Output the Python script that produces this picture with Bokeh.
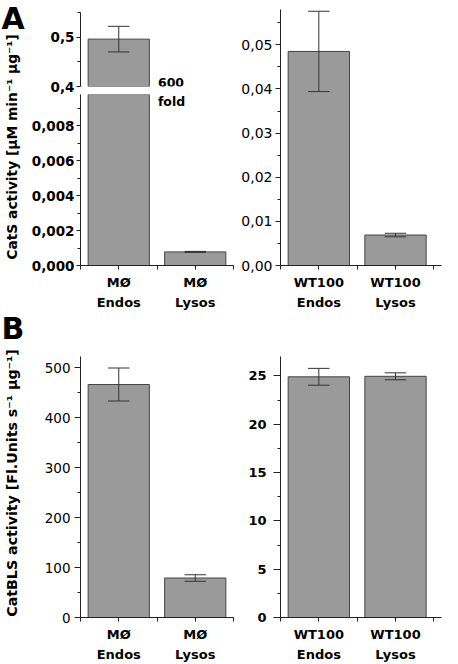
import math
from bokeh.plotting import figure
from bokeh.models import (Range1d, LinearAxis, FixedTicker, CustomJSTickFormatter,
                          Label, ColumnDataSource)
from bokeh.layouts import row, column
from bokeh.embed import file_html
from bokeh.resources import INLINE

FONT = "DejaVu Sans"

# ---------------- data ----------------
labels_mo = ["MØ\nEndos", "MØ\nLysos"]
labels_wt = ["WT100\nEndos", "WT100\nLysos"]
bar_pos = [1, 2]

cats_mo_mean = [0.496, 0.00078]
cats_mo_err = [0.026, 0.00003]
cats_wt_mean = [0.0485, 0.0069]
cats_wt_err = [0.0091, 0.0004]
bls_mo_mean = [466, 79]
bls_mo_err = [33, 6.5]
bls_wt_mean = [24.9, 24.95]
bls_wt_err = [0.87, 0.36]

ticks_cats_upper = [0.4, 0.5]
minor_cats_upper = [0.45, 0.55]
ticks_cats_lower = [0.0, 0.002, 0.004, 0.006, 0.008]
minor_cats_lower = [0.001, 0.003, 0.005, 0.007, 0.009]
ticks_cats_wt = [0.0, 0.01, 0.02, 0.03, 0.04, 0.05]
minor_cats_wt = [0.005, 0.015, 0.025, 0.035, 0.045, 0.055]
ticks_bls_mo = [0, 100, 200, 300, 400, 500]
minor_bls_mo = [50, 150, 250, 350, 450]
ticks_bls_wt = [0, 5, 10, 15, 20, 25]
minor_bls_wt = [2.5, 7.5, 12.5, 17.5, 22.5]
x_ticks = [0.5, 1, 1.5, 2, 2.5]

ylabel_top = "CatS activity [µM min⁻¹ µg⁻¹]"
ylabel_bot = "CatBLS activity [Fl.Units s⁻¹ µg⁻¹]"
panel_letters = ["A", "B"]
fold_text = ["600", "fold"]

BAR_FILL = "#9a9a9a"
BAR_LINE = "#444444"
AX = "#222222"
TXT = "black"


def make_fig(w, h, l, r, t, b, xr, yr):
    p = figure(width=w, height=h, x_range=Range1d(*xr), y_range=Range1d(*yr),
               output_backend="svg", toolbar_location=None,
               x_axis_location=None, y_axis_location=None,
               min_border_left=l, min_border_right=r,
               min_border_top=t, min_border_bottom=b)
    p.outline_line_color = None
    p.grid.visible = False
    p.background_fill_color = "white"
    p.border_fill_color = "white"
    return p


def add_y(p, ticks, minor, digits, bold, size, standoff, tick_out=5, comma=True):
    code = f"return tick.toFixed({digits})" + (".replace('.', ',');" if comma else ";")
    ax = LinearAxis(ticker=FixedTicker(ticks=ticks, minor_ticks=minor),
                    formatter=CustomJSTickFormatter(code=code))
    ax.axis_line_color = AX
    ax.major_tick_line_color = AX
    ax.minor_tick_line_color = AX
    ax.major_tick_in = 0
    ax.major_tick_out = tick_out
    ax.minor_tick_in = 0
    ax.minor_tick_out = 3
    ax.major_label_standoff = standoff
    ax.major_label_text_font = FONT
    ax.major_label_text_font_size = size
    ax.major_label_text_font_style = "bold" if bold else "normal"
    ax.major_label_text_color = TXT
    p.add_layout(ax, "left")
    return ax


def add_x(p, labels):
    ax = LinearAxis(ticker=FixedTicker(ticks=x_ticks, minor_ticks=[]),
                    formatter=CustomJSTickFormatter(
                        args=dict(labels=labels),
                        code="const r = Math.round(tick); const i = r - 1;"
                             "return (Math.abs(tick - r) < 1e-6 && i >= 0 && i < labels.length) ? labels[i] : '';"))
    ax.axis_line_color = AX
    ax.major_tick_line_color = AX
    ax.major_tick_in = 0
    ax.major_tick_out = 4
    ax.major_label_standoff = 5
    ax.major_label_text_font = FONT
    ax.major_label_text_font_size = "13px"
    ax.major_label_text_font_style = "bold"
    ax.major_label_text_color = TXT
    ax.major_label_text_line_height = 1.35
    p.add_layout(ax, "below")
    return ax


def add_bars(p, means, errs, ymin=None, cap=0.14):
    idx = [i for i, m in enumerate(means) if ymin is None or m > ymin]
    xs = [bar_pos[i] for i in idx]
    tops = [means[i] for i in idx]
    lo = [means[i] - errs[i] for i in idx]
    hi = [means[i] + errs[i] for i in idx]
    src = ColumnDataSource(dict(x=xs, top=tops, lo=lo, hi=hi,
                                xl=[x - cap for x in xs], xr=[x + cap for x in xs]))
    p.vbar(x="x", top="top", bottom=0, width=0.8, source=src,
           fill_color=BAR_FILL, line_color=BAR_LINE, line_width=1)
    p.segment(x0="x", y0="lo", x1="x", y1="hi", source=src, line_color="#333333", line_width=1)
    p.segment(x0="xl", y0="hi", x1="xr", y1="hi", source=src, line_color="#333333", line_width=1)
    p.segment(x0="xl", y0="lo", x1="xr", y1="lo", source=src, line_color="#333333", line_width=1)


# ---------------- left label strip (full height, data y = page y) ----------------
lab = make_fig(28, 664, 0, 0, 0, 0, (0, 28), (664, 0))
lab.add_layout(Label(x=12.5, y=0, text=panel_letters[0], text_font=FONT, text_font_size="30px",
                     text_font_style="bold", text_align="center", text_baseline="top",
                     text_color=TXT))
lab.add_layout(Label(x=12.5, y=328, text=panel_letters[1], text_font=FONT, text_font_size="30px",
                     text_font_style="bold", text_align="center", text_baseline="middle",
                     text_color=TXT))
lab.add_layout(Label(x=11, y=146.5, text=ylabel_top, angle=math.pi / 2, text_font=FONT,
                     text_font_size="13.8px", text_font_style="bold",
                     text_align="center", text_baseline="middle", text_color=TXT))
lab.add_layout(Label(x=11, y=482.5, text=ylabel_bot, angle=math.pi / 2, text_font=FONT,
                     text_font_size="14.2px", text_font_style="bold",
                     text_align="center", text_baseline="middle", text_color=TXT))

# ---------------- top row ----------------
tl_up = make_fig(207, 94, 52, 2, 12, 8, (0.5, 2.5), (0.4, 0.55))
add_y(tl_up, ticks_cats_upper, minor_cats_upper, 1, True, "13.5px", 2, tick_out=4)
add_bars(tl_up, cats_mo_mean, cats_mo_err, ymin=0.4)
tl_up.add_layout(Label(x=1.683, y=0.4081, text=fold_text[0], text_font=FONT, text_font_size="12.5px",
                       text_font_style="bold", text_align="center", text_baseline="middle",
                       text_color=TXT))
tl_up.add_layout(Label(x=0.5, y=0.4, y_offset=-3, text="/", text_font=FONT, text_font_size="9px",
                       text_align="center", text_baseline="middle", text_color=AX))

tl_lo = make_fig(207, 218, 52, 2, 0, 45, (0.5, 2.5), (0, 0.009802))
add_y(tl_lo, ticks_cats_lower, minor_cats_lower, 3, True, "13.5px", 2, tick_out=4)
add_x(tl_lo, labels_mo)
add_bars(tl_lo, cats_mo_mean, cats_mo_err)
tl_lo.add_layout(Label(x=1.69, y=0.009377, text=fold_text[1], text_font=FONT, text_font_size="12.5px",
                       text_font_style="bold", text_align="center", text_baseline="middle",
                       text_color=TXT))

tr = make_fig(223, 312, 45, 17, 9, 45, (0.5, 2.6), (0, 0.058))
add_y(tr, ticks_cats_wt, minor_cats_wt, 2, False, "14px", 3)
add_x(tr, labels_wt)
add_bars(tr, cats_wt_mean, cats_wt_err)

# ---------------- bottom row ----------------
bl = make_fig(207, 352, 52, 2, 38, 45, (0.5, 2.5), (0, 522))
add_y(bl, ticks_bls_mo, minor_bls_mo, 0, False, "13.5px", 4, tick_out=6, comma=False)
add_x(bl, labels_mo)
add_bars(bl, bls_mo_mean, bls_mo_err)

br = make_fig(223, 352, 45, 17, 44, 44, (0.5, 2.6), (0, 27))
add_y(br, ticks_bls_wt, minor_bls_wt, 0, True, "13px", 7, tick_out=7, comma=False)
add_x(br, labels_wt)
add_bars(br, bls_wt_mean, bls_wt_err)

panels = column(row(column(tl_up, tl_lo), tr), row(bl, br))
layout = row(lab, panels)

open("out.html", "w").write(file_html(layout, INLINE))
